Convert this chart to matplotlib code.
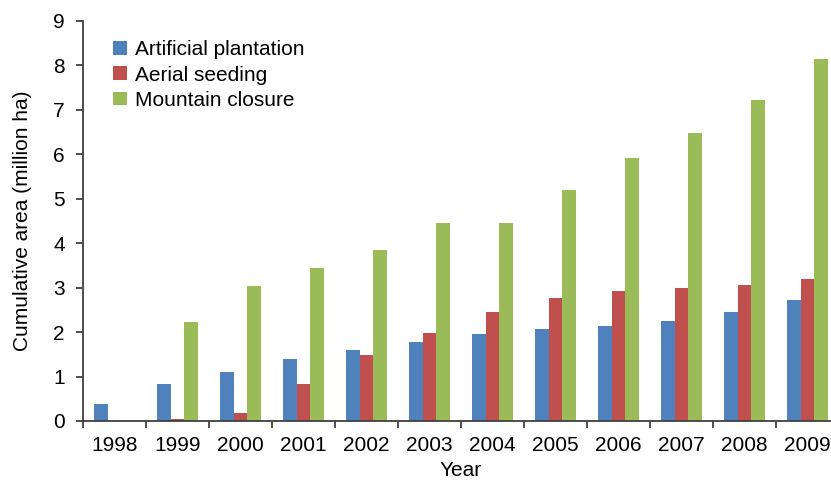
import numpy as np
import matplotlib
matplotlib.use('Agg')
import matplotlib.pyplot as plt

plt.rcParams['font.family'] = ['Liberation Sans', 'DejaVu Sans']

years = ['1998', '1999', '2000', '2001', '2002', '2003',
         '2004', '2005', '2006', '2007', '2008', '2009']
artificial = [0.38, 0.83, 1.10, 1.40, 1.60, 1.78, 1.96, 2.07, 2.14, 2.25, 2.45, 2.72]
aerial = [0.01, 0.04, 0.18, 0.83, 1.49, 1.98, 2.45, 2.77, 2.93, 2.99, 3.06, 3.20]
mountain = [0.0, 2.23, 3.04, 3.44, 3.85, 4.46, 4.46, 5.20, 5.92, 6.48, 7.22, 8.15]

labels = ['Artificial plantation', 'Aerial seeding', 'Mountain closure']
colors = ['#4F81BD', '#C0504D', '#9BBB59']

fig = plt.figure(figsize=(8.31, 4.83), dpi=100)
# the axes runs past the right edge, as in the original (2009 gets cut off)
ax = fig.add_axes([83/831, 62/483, 756/831, 400/483])

x = np.arange(len(years))
w = 0.222
for i, (vals, lab, c) in enumerate(zip([artificial, aerial, mountain], labels, colors)):
    ax.bar(x + (i - 1) * w, vals, width=w, color=c, label=lab, linewidth=0)

spine_col = '#404040'
for s in ['top', 'right']:
    ax.spines[s].set_visible(False)
for s in ['left', 'bottom']:
    ax.spines[s].set_color(spine_col)
    ax.spines[s].set_linewidth(1.3)

ax.set_ylim(0, 9)
ax.set_yticks(range(10))
ax.set_xlim(-0.5, 11.5)
ax.set_xticks(x)
ax.set_xticklabels(years)
ax.set_xticks(np.arange(-0.5, 12, 1), minor=True)
ax.tick_params(axis='x', which='major', length=0, labelsize=15, pad=11)
ax.tick_params(axis='x', which='minor', length=5, width=1.3, color=spine_col, direction='out')
ax.tick_params(axis='y', length=5, width=1.3, color=spine_col, labelsize=15, pad=8)

ax.set_xlabel('Year', fontsize=15, labelpad=4)
ax.set_ylabel('Cumulative area (million ha)', fontsize=15, labelpad=15)

ax.legend(loc='upper left', bbox_to_anchor=(105/831, 1 - 32/483), bbox_transform=fig.transFigure,
          frameon=False, fontsize=15, handlelength=0.65, handleheight=0.65,
          handletextpad=0.4, labelspacing=0.3, borderaxespad=0)

fig.savefig('out.png', dpi=100)
